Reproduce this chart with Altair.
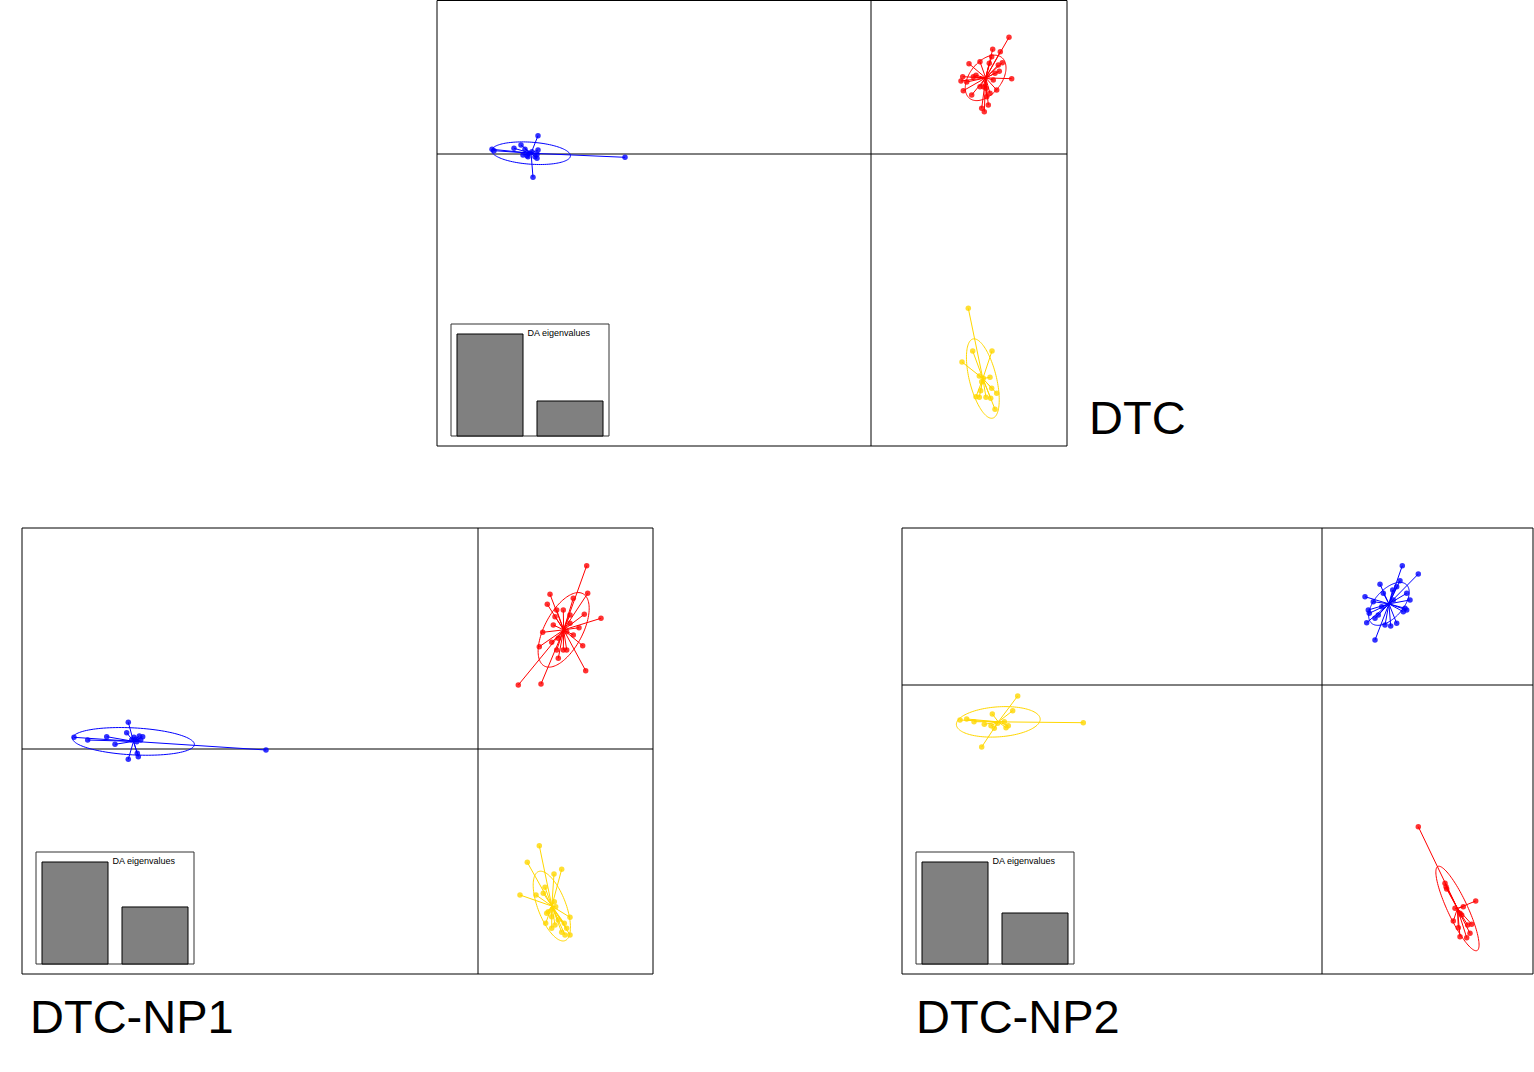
import altair as alt
import numpy as np
import pandas as pd

# ---------------- DAPC scores (LD1, LD2) ----------------
GROUPS = ["1", "2", "3"]
GROUP_COLORS = ["#0000FF", "#FF0000", "#FFD700"]

# Panel DTC
DTC_g1_ld1 = [-37.9, -37.7, -35.7, -35.0, -34.6, -33.3, -33.8, -24.6, -34.8, -34.4, -34.2, -33.6, -33.4, -33.3, -33.4, -33.9, -34.3]
DTC_g1_ld2 = [0.47, 0.33, 0.57, 0.9, 0.47, 1.83, -2.33, -0.33, -0.1, -0.17, 0.07, -0.27, -0.43, 0.4, -0.03, 0.23, -0.27]
DTC_g2_ld1 = [13.8, 12.93, 12.17, 12.07, 10.9, 9.8, 11.83, 12.73, 13.13, 12.83, 9.17, 9.0, 9.57, 10.5, 14.07, 12.23, 9.23, 11.23, 11.5, 11.9, 10.07, 12.57, 11.57, 11.07, 11.73, 11.33, 10.9, 12.4, 10.23]
DTC_g2_ld2 = [11.67, 10.23, 10.47, 9.73, 9.23, 9.03, 9.07, 8.9, 9.13, 8.27, 7.73, 7.3, 7.2, 7.87, 7.53, 7.4, 6.33, 6.73, 6.57, 6.07, 5.9, 6.4, 5.73, 4.57, 4.9, 4.23, 6.73, 8.07, 7.73]
DTC_g3_ld1 = [9.73, 10.17, 12.1, 9.1, 10.83, 11.9, 11.07, 12.07, 12.57, 10.97, 10.5, 10.83, 11.5, 11.97, 12.4, 11.23]
DTC_g3_ld2 = [-15.43, -19.7, -19.7, -20.8, -22.2, -22.33, -22.77, -23.43, -23.93, -23.67, -24.27, -24.33, -24.33, -24.43, -25.53, -22.43]

# Panel DTC-NP1
NP1_g1_ld1 = [-40.4, -39.03, -37.13, -36.3, -34.97, -35.13, -34.4, -33.87, -33.53, -34.13, -33.73, -34.97, -34.07, -33.97, -21.2, -34.63, -34.2]
NP1_g1_ld2 = [1.17, 0.9, 1.23, 0.47, 2.67, 1.63, 1.17, 1.3, 1.23, 0.73, 0.9, -1.03, -0.43, -0.77, -0.1, 0.9, 0.97]
NP1_g2_ld1 = [10.87, 10.97, 7.2, 9.53, 6.93, 8.53, 7.87, 10.63, 12.3, 7.7, 9.2, 7.53, 10.1, 6.47, 9.53, 7.37, 6.13, 10.47, 7.87, 8.53, 8.87, 8.03, 10.77, 6.3, 4.03, 8.03, 8.87, 9.2]
NP1_g2_ld2 = [18.33, 15.57, 15.47, 15.07, 14.47, 13.9, 13.9, 13.47, 13.07, 13.23, 13.4, 12.4, 12.13, 11.67, 11.4, 10.67, 10.23, 10.33, 9.9, 9.9, 9.9, 9.07, 7.83, 6.5, 6.4, 11.07, 11.73, 12.57]
NP1_g3_ld1 = [6.13, 4.93, 7.6, 8.37, 6.7, 6.53, 4.2, 5.8, 7.63, 7.77, 6.87, 7.37, 9.2, 8.03, 6.77, 7.7, 8.63, 8.87, 8.7, 9.2, 8.37, 7.37, 7.03]
NP1_g3_ld2 = [-9.67, -11.33, -12.5, -12.03, -13.83, -14.43, -14.6, -14.6, -15.27, -15.77, -16.43, -16.77, -16.83, -17.1, -17.43, -17.6, -17.43, -17.93, -18.6, -18.6, -18.33, -17.93, -16.27]

# Panel DTC-NP2
NP2_g1_ld1 = [8.03, 9.63, 5.8, 7.8, 7.07, 8.47, 7.47, 4.3, 5.13, 8.8, 4.63, 4.73, 8.3, 8.47, 8.13, 5.3, 4.47, 6.3, 6.87, 7.47, 5.3, 6.13, 5.63, 7.13, 5.97]
NP2_g1_ld2 = [11.93, 11.1, 10.07, 10.43, 9.5, 9.17, 9.83, 8.83, 8.33, 8.5, 7.5, 7.17, 7.67, 7.5, 7.33, 6.67, 6.23, 6.0, 5.9, 6.17, 4.5, 9.17, 7.0, 8.5, 7.83]
NP2_g2_ld1 = [9.63, 12.3, 12.4, 12.47, 15.37, 14.13, 13.3, 13.8, 13.13, 14.97, 14.57, 13.63, 14.8, 13.8, 14.47, 13.97]
NP2_g2_ld2 = [-14.17, -19.83, -20.17, -20.4, -21.6, -22.17, -22.33, -22.83, -23.6, -23.93, -24.0, -24.27, -24.83, -25.17, -25.27, -23.0]
NP2_g3_ld1 = [-30.43, -30.93, -36.2, -35.53, -34.8, -32.97, -33.77, -33.1, -32.77, -31.6, -31.37, -31.77, -34.03, -23.87, -32.43]
NP2_g3_ld2 = [-1.1, -2.57, -3.5, -3.4, -3.67, -2.9, -3.93, -4.07, -4.33, -4.27, -4.07, -3.67, -6.2, -3.77, -3.83]

# Inertia ellipses per group (semi-axes and orientation in degrees)
DTC_ell_a = [3.95, 2.6, 4.08]
DTC_ell_b = [1.1, 1.6, 1.35]
DTC_ell_ang = [-4, 52, -76]
NP1_ell_a = [6.1, 4.1, 3.7]
NP1_ell_b = [1.35, 1.9, 1.4]
NP1_ell_ang = [-3, 62, -69]
NP2_ell_a = [2.6, 4.64, 4.2]
NP2_ell_b = [1.4, 1.0, 1.5]
NP2_ell_ang = [48, -65, 4]

# DA eigenvalues (relative)
EIG_RANK = ["1", "2"]
DTC_eig = [100.0, 34.3]
NP1_eig = [100.0, 55.9]
NP2_eig = [100.0, 50.0]

LABELS = ["DTC", "DTC-NP1", "DTC-NP2"]

FONT = "Liberation Sans"


def points_df(ld1s, ld2s):
    rows = []
    for g, xs, ys in zip(GROUPS, ld1s, ld2s):
        for x, y in zip(xs, ys):
            rows.append({"grp": g, "ld1": x, "ld2": y})
    df = pd.DataFrame(rows)
    cen = df.groupby("grp")[["ld1", "ld2"]].mean().rename(columns={"ld1": "cx", "ld2": "cy"})
    return df.merge(cen, left_on="grp", right_index=True), cen


def ellipse_df(cen, a_list, b_list, ang_list):
    t = np.linspace(0, 2 * np.pi, 121)
    rows = []
    for g, a, b, ang in zip(GROUPS, a_list, b_list, ang_list):
        th = np.deg2rad(ang)
        cx, cy = cen.loc[g, "cx"], cen.loc[g, "cy"]
        ex = cx + a * np.cos(t) * np.cos(th) - b * np.sin(t) * np.sin(th)
        ey = cy + a * np.cos(t) * np.sin(th) + b * np.sin(t) * np.cos(th)
        for k, (x, y) in enumerate(zip(ex, ey)):
            rows.append({"grp": g, "ex": x, "ey": y, "k": k})
    return pd.DataFrame(rows)


color_enc = alt.Color("grp:N", scale=alt.Scale(domain=GROUPS, range=GROUP_COLORS), legend=None)


def panel(ld1s, ld2s, ea, eb, eang, box, origin, label, label_dx, label_dy):
    left, right, top, bottom = box
    ox, oy = origin
    k = 10.0  # pixels per LD unit
    xdom = [(left - ox) / k, (right - ox) / k]
    ydom = [(oy - bottom) / k, (oy - top) / k]
    sx = alt.Scale(domain=xdom, range=[left, right], nice=False, zero=False)
    sy = alt.Scale(domain=ydom, range=[bottom, top], nice=False, zero=False)

    pts, cen = points_df(ld1s, ld2s)
    ell = ellipse_df(cen, ea, eb, eang)

    axes_df = pd.DataFrame({"x": [0, xdom[0]], "x2": [0, xdom[1]], "y": [ydom[0], 0], "y2": [ydom[1], 0]})
    axes = alt.Chart(axes_df).mark_rule(color="#000000", strokeWidth=1).encode(
        x=alt.X("x:Q", scale=sx, axis=None), x2="x2:Q",
        y=alt.Y("y:Q", scale=sy, axis=None), y2="y2:Q")

    segs = alt.Chart(pts).mark_rule(strokeWidth=1).encode(
        x=alt.X("cx:Q", scale=sx, axis=None), y=alt.Y("cy:Q", scale=sy, axis=None),
        x2="ld1:Q", y2="ld2:Q", color=color_enc)

    ells = alt.Chart(ell).mark_line(strokeWidth=1).encode(
        x=alt.X("ex:Q", scale=sx, axis=None), y=alt.Y("ey:Q", scale=sy, axis=None),
        detail="grp:N", order="k:Q", color=color_enc)

    dots = alt.Chart(pts).mark_circle(size=30, opacity=0.8).encode(
        x=alt.X("ld1:Q", scale=sx, axis=None), y=alt.Y("ld2:Q", scale=sy, axis=None),
        color=color_enc)

    frame_df = pd.DataFrame({"x": [xdom[0]], "x2": [xdom[1]], "y": [ydom[0]], "y2": [ydom[1]]})
    frame = alt.Chart(frame_df).mark_rect(fillOpacity=0, stroke="#000000", strokeWidth=1).encode(
        x=alt.X("x:Q", scale=sx, axis=None), x2="x2:Q",
        y=alt.Y("y:Q", scale=sy, axis=None), y2="y2:Q")

    lab_df = pd.DataFrame({"x": [xdom[1] if label == "DTC" else xdom[0]], "y": [ydom[0]], "t": [label]})
    lab = alt.Chart(lab_df).mark_text(font=FONT, fontSize=47, align="left", baseline="alphabetic",
                                      dx=label_dx, dy=label_dy, color="#000000").encode(
        x=alt.X("x:Q", scale=sx, axis=None), y=alt.Y("y:Q", scale=sy, axis=None), text="t:N")

    return alt.layer(axes, segs, ells, dots, frame, lab)


def inset(eig, box):
    left, right, top, bottom = box
    bx = alt.Scale(domain=[0, 1], range=[left, right], nice=False, zero=False)
    by = alt.Scale(domain=[0, 1], range=[bottom, top], nice=False, zero=False)
    fdf = pd.DataFrame({"x": [0.0], "x2": [1.0], "y": [0.0], "y2": [1.0]})
    fr = alt.Chart(fdf).mark_rect(fill="#FFFFFF", stroke="#333333", strokeWidth=1).encode(
        x=alt.X("x:Q", scale=bx, axis=None), x2="x2:Q",
        y=alt.Y("y:Q", scale=by, axis=None), y2="y2:Q")
    tdf = pd.DataFrame({"x": [0.484], "y": [0.89], "t": ["DA eigenvalues"]})
    tx = alt.Chart(tdf).mark_text(font=FONT, fontSize=9, align="left", baseline="alphabetic",
                                  color="#000000").encode(
        x=alt.X("x:Q", scale=bx, axis=None), y=alt.Y("y:Q", scale=by, axis=None), text="t:N")
    box_layer = alt.layer(fr, tx)

    bdf = pd.DataFrame({"rank": EIG_RANK, "eig": eig})
    bars = alt.Chart(bdf).mark_bar(color="#808080", stroke="#000000", strokeWidth=1).encode(
        x=alt.X("rank:O", scale=alt.Scale(domain=EIG_RANK, range=[left + 6, right - 6],
                                          paddingInner=0.175, paddingOuter=0), axis=None),
        y=alt.Y("eig:Q", scale=alt.Scale(domain=[0, max(eig)], range=[bottom, top + 10],
                                         nice=False, zero=True), axis=None))
    return box_layer, bars


p1 = panel([DTC_g1_ld1, DTC_g2_ld1, DTC_g3_ld1], [DTC_g1_ld2, DTC_g2_ld2, DTC_g3_ld2],
           DTC_ell_a, DTC_ell_b, DTC_ell_ang, (437, 1067, 0.5, 446), (871, 154), LABELS[0], 22, -12)
i1a, i1b = inset(DTC_eig, (451, 609, 324, 436))

p2 = panel([NP1_g1_ld1, NP1_g2_ld1, NP1_g3_ld1], [NP1_g1_ld2, NP1_g2_ld2, NP1_g3_ld2],
           NP1_ell_a, NP1_ell_b, NP1_ell_ang, (22, 653, 528, 974), (478, 749), LABELS[1], 8, 59)
i2a, i2b = inset(NP1_eig, (36, 194, 852, 964))

p3 = panel([NP2_g1_ld1, NP2_g2_ld1, NP2_g3_ld1], [NP2_g1_ld2, NP2_g2_ld2, NP2_g3_ld2],
           NP2_ell_a, NP2_ell_b, NP2_ell_ang, (902, 1533, 528, 974), (1322, 685), LABELS[2], 14, 59)
i3a, i3b = inset(NP2_eig, (916, 1074, 852, 964))

chart = alt.layer(p1, i1a, i1b, p2, i2a, i2b, p3, i3a, i3b).resolve_scale(
    x="independent", y="independent"
).properties(
    width=1534, height=1072, padding=0, autosize=alt.AutoSizeParams(type="none")
).configure_view(stroke=None)

chart.save("out.html", embed_options={"renderer": "svg", "actions": False})
